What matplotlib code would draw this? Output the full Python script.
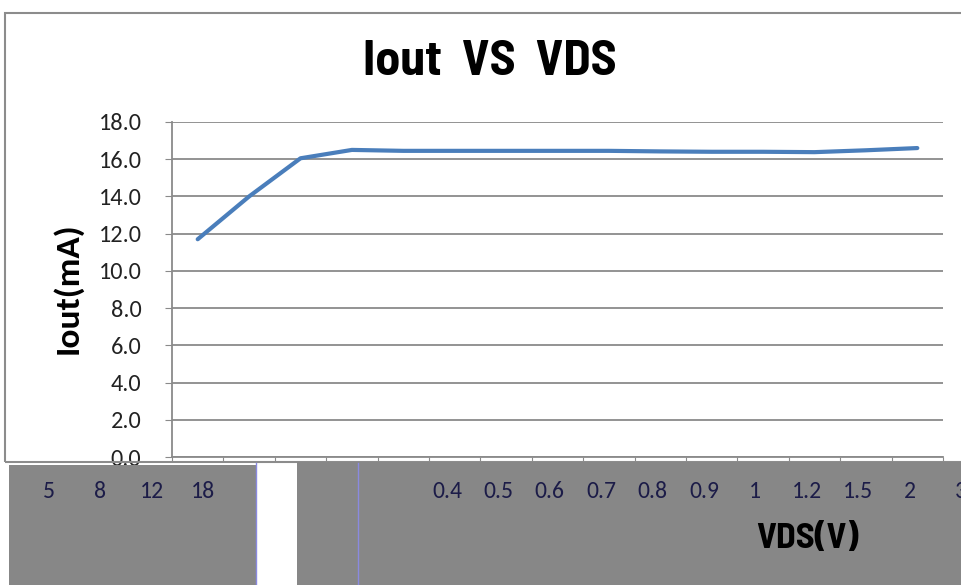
import numpy as np
import matplotlib.pyplot as plt
from matplotlib.patches import Rectangle

# Iout (mA) for each of the 15 categories of the line chart
iout = [11.7, 14.0, 16.05, 16.5, 16.45, 16.45, 16.45, 16.45, 16.45, 16.42,
        16.4, 16.4, 16.38, 16.48, 16.6]
y_ticks = [0.0, 2.0, 4.0, 6.0, 8.0, 10.0, 12.0, 14.0, 16.0, 18.0]

# labels printed on the grey patches pasted over the category axis
left_labels = ['5', '8', '12', '18']
right_labels = ['0.4', '0.5', '0.6', '0.7', '0.8', '0.9', '1', '1.2', '1.5', '2', '3']

W, H = 961, 585
fig = plt.figure(figsize=(W / 100, H / 100), dpi=100)

narrow = ['Liberation Sans Narrow', 'Arial Narrow', 'Barlow Semi Condensed']
body = ['Carlito', 'Lato']


def fx(px):
    return px / W


def fy(py):
    return 1 - py / H


grid_c = '#8a8a8a'

# chart border
fig.add_artist(Rectangle((fx(5), fy(462)), fx(970 - 5), fy(13) - fy(462),
                         transform=fig.transFigure, fill=False,
                         edgecolor='#8c8c8c', lw=1.5, zorder=1))

ax = fig.add_axes([fx(172), fy(457), fx(943 - 172), fy(122) - fy(457)])
x = np.arange(len(iout))
ax.plot(x, iout, color='#4a7ebb', lw=3.0, solid_capstyle='round',
        solid_joinstyle='round')
ax.set_xlim(-0.5, len(iout) - 0.5)
ax.set_ylim(0, 18)
ax.set_yticks(y_ticks)
ax.set_yticklabels([f'{v:.1f}' for v in y_ticks], fontsize=17.5,
                   family=body, color='#222222')
ax.set_xticks(np.arange(len(iout) + 1) - 0.5)
ax.set_xticklabels([])
ax.grid(axis='y', color=grid_c, lw=1.3)
ax.set_axisbelow(True)
for s in ['top', 'right']:
    ax.spines[s].set_visible(False)
for s in ['left', 'bottom']:
    ax.spines[s].set_color(grid_c)
    ax.spines[s].set_linewidth(1.3)
ax.tick_params(axis='y', direction='out', length=5, color=grid_c, pad=17)
ax.tick_params(axis='x', direction='out', length=3.5, color=grid_c)

fig.text(fx(490), fy(62), 'Iout  VS  VDS', ha='center', va='center',
         fontsize=36, fontweight='bold', family=narrow)
fig.text(fx(67), fy(288), 'Iout(mA)', ha='center', va='center', rotation=90,
         fontsize=25.5, fontweight='bold', family=body)

# grey patches covering the category labels
patch_c = '#878787'
fig.add_artist(Rectangle((fx(9), 0), fx(256 - 9), fy(465),
                         transform=fig.transFigure, facecolor=patch_c,
                         edgecolor='none', zorder=10))
fig.add_artist(Rectangle((fx(297), 0), fx(W - 297), fy(462),
                         transform=fig.transFigure, facecolor=patch_c,
                         edgecolor='none', zorder=10))
for xp in [256, 358]:
    fig.add_artist(plt.Line2D([fx(xp), fx(xp)], [0, fy(463)],
                              transform=fig.transFigure, color='#8a8ae0',
                              lw=1, zorder=11))

txt_c = '#1c1c48'
step = 51.4
for i, lab in enumerate(left_labels):
    fig.text(fx(49 + i * step), fy(492), lab, ha='center', va='center',
             fontsize=17, family=body, color=txt_c, zorder=12)
for i, lab in enumerate(right_labels):
    fig.text(fx(447 + i * step), fy(492), lab, ha='center', va='center',
             fontsize=17, family=body, color=txt_c, zorder=12)

fig.text(fx(807), fy(539), 'VDS(V)', ha='center', va='center',
         fontsize=26, fontweight='bold', family=narrow,
         color='#000000', zorder=12)

fig.savefig('out.png', dpi=100)
